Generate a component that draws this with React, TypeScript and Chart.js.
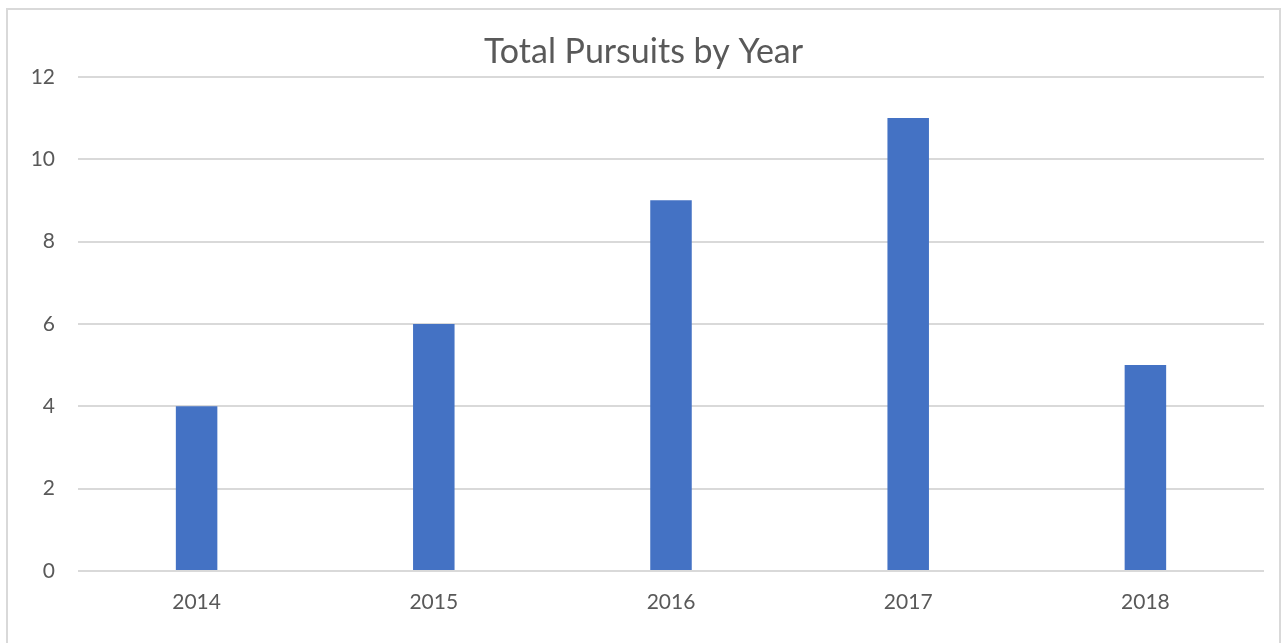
import React, { useEffect, useRef } from "react";
import { Chart, registerables } from "chart.js";

Chart.register(...registerables);

const years = ["2014", "2015", "2016", "2017", "2018"];
const pursuits = [4, 6, 9, 11, 5];
const chartTitle = "Total Pursuits by Year";

const TEXT = "#595959";
const GRID = "#d9d9d9";
const BAR = "#4472C4";
const FONT = "Lato, 'Open Sans', sans-serif";

const frame = {
  id: "frame",
  beforeDraw(chart: any) {
    const { ctx, width, height } = chart;
    ctx.save();
    ctx.fillStyle = "#ffffff";
    ctx.fillRect(0, 0, width, height);
    ctx.strokeStyle = GRID;
    ctx.lineWidth = 2;
    ctx.beginPath();
    ctx.moveTo(7, height + 5);
    ctx.lineTo(7, 9);
    ctx.lineTo(width - 1, 9);
    ctx.lineTo(width - 1, height + 5);
    ctx.stroke();
    ctx.restore();
  },
  afterLayout(chart: any) {
    const t = chart.titleBlock;
    if (t) {
      t.left = 6;
      t.right = chart.width;
      t.width = t.right - t.left;
    }
  },
};

export default function App() {
  const ref = useRef<HTMLCanvasElement>(null);
  useEffect(() => {
    if (!ref.current) return;
    const chart = new Chart(ref.current, {
      type: "bar",
      data: {
        labels: years,
        datasets: [
          {
            label: "Pursuits",
            data: pursuits,
            backgroundColor: BAR,
            borderWidth: 0,
            barPercentage: 0.175,
            categoryPercentage: 1,
          },
        ],
      },
      options: {
        responsive: false,
        animation: false,
        layout: { padding: { left: 0, right: 17, top: 0, bottom: 0 } },
        plugins: {
          legend: { display: false },
          tooltip: { enabled: false },
          title: {
            display: true,
            text: chartTitle,
            color: TEXT,
            font: { family: FONT, size: 34, weight: "normal", lineHeight: 1.2 },
            padding: { top: 32, bottom: 4 },
          },
        },
        scales: {
          x: {
            grid: { display: false, drawTicks: false, tickLength: 0 },
            border: { display: false },
            ticks: {
              color: TEXT,
              font: { family: FONT, size: 21, lineHeight: 1.2 },
              padding: 19,
              maxRotation: 0,
            },
            afterFit(scale: any) {
              scale.height = 72;
            },
          },
          y: {
            min: 0,
            max: 12,
            grid: { color: GRID, lineWidth: 2, drawTicks: false, tickLength: 0 },
            border: { display: false },
            ticks: {
              stepSize: 2,
              color: TEXT,
              font: { family: FONT, size: 21, lineHeight: 1.2 },
              padding: 23,
            },
            afterFit(scale: any) {
              scale.width = 78;
            },
          },
        },
      },
      plugins: [frame],
    });
    return () => chart.destroy();
  }, []);
  return (
    <div
      style={{
        position: "fixed",
        left: 0,
        top: 0,
        width: 1281,
        height: 643,
        overflow: "hidden",
        background: "#fff",
      }}
    >
      <canvas ref={ref} width={1281} height={643} style={{ display: "block" }} />
    </div>
  );
}
